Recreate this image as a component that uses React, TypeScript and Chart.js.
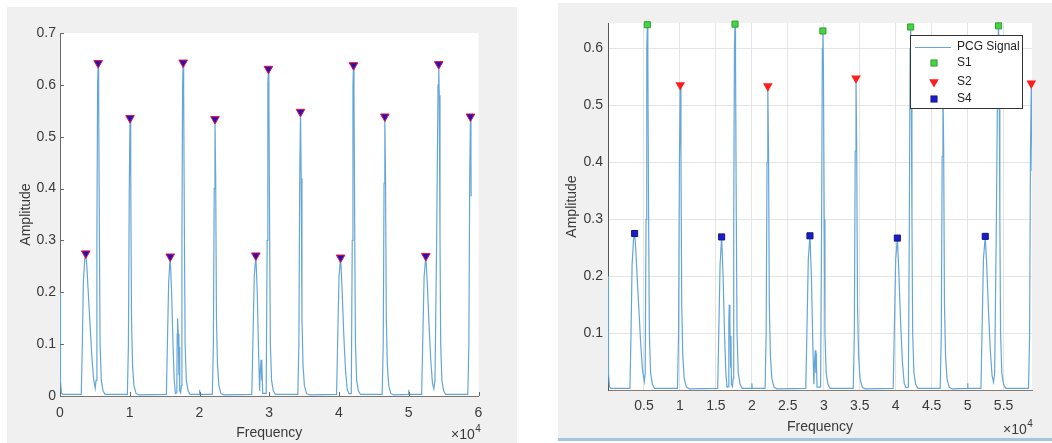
import React, { useEffect, useRef } from 'react';
import { Chart, registerables } from 'chart.js';

Chart.register(...registerables);

const FONT = "'Liberation Sans', Arial, Helvetica, sans-serif";
const TEXT = '#3a3a3a';
const LINE = '#65a6d8';

// Peak markers (frequency index, amplitude)
const s1Freq = [5470, 17660, 29880, 42080, 54300];
const s1Amp = [0.642, 0.643, 0.631, 0.638, 0.640];
const s2Freq = [10040, 22220, 34480, 46570, 58850];
const s2Amp = [0.536, 0.534, 0.548, 0.539, 0.539];
const s4Freq = [3700, 15800, 28080, 40230, 52450];
const s4Amp = [0.275, 0.269, 0.271, 0.267, 0.270];

// PCG envelope: [frequency, amplitude]
const pcgSignal: [number, number][] = [
  [0, 0.2], [40, 0.1], [100, 0.03], [200, 0.006], [400, 0.003],
  [3050, 0.003], [3200, 0.1], [3350, 0.22], [3550, 0.265], [3700, 0.275], [3850, 0.25], [4050, 0.2], [4300, 0.14], [4550, 0.08], [4800, 0.035], [5050, 0.015],
  [5170, 0.03], [5290, 0.3], [5390, 0.6], [5470, 0.642], [5540, 0.58], [5650, 0.3], [5750, 0.1], [5920, 0.03], [6170, 0.01], [6470, 0.003],
  [9660, 0.003], [9810, 0.1], [9930, 0.4], [10040, 0.536], [10140, 0.42], [10250, 0.15], [10400, 0.06], [10600, 0.02], [10900, 0.005], [11300, 0.002],
  [15250, 0.003], [15400, 0.1], [15580, 0.22], [15800, 0.269], [16000, 0.2], [16200, 0.1], [16380, 0.03], [16550, 0.005],
  [16750, 0.006], [16800, 0.12], [16860, 0.15], [16950, 0.12], [17050, 0.04], [17100, 0.095], [17160, 0.01], [17300, 0.006],
  [17400, 0.02], [17480, 0.3], [17580, 0.6], [17660, 0.643], [17730, 0.58], [17840, 0.3], [17940, 0.1], [18110, 0.03], [18360, 0.01], [18660, 0.003],
  [19950, 0.003], [20000, 0.012], [20050, 0.003],
  [21840, 0.003], [21990, 0.1], [22110, 0.4], [22220, 0.534], [22320, 0.42], [22430, 0.15], [22580, 0.06], [22780, 0.02], [23080, 0.005], [23480, 0.002],
  [27500, 0.003], [27650, 0.1], [27850, 0.23], [28080, 0.271], [28280, 0.2], [28480, 0.08], [28620, 0.01],
  [28720, 0.05], [28820, 0.07], [28900, 0.03], [28960, 0.065], [29060, 0.005],
  [29560, 0.005], [29700, 0.3], [29800, 0.6], [29880, 0.631], [29950, 0.57], [30060, 0.3], [30160, 0.1], [30330, 0.03], [30580, 0.01], [30880, 0.003],
  [34100, 0.003], [34250, 0.1], [34370, 0.42], [34480, 0.548], [34580, 0.42], [34690, 0.15], [34840, 0.06], [35040, 0.02], [35340, 0.005], [35740, 0.002],
  [39650, 0.003], [39800, 0.1], [40000, 0.23], [40230, 0.267], [40430, 0.21], [40680, 0.12], [40930, 0.05], [41180, 0.012], [41450, 0.004],
  [41760, 0.005], [41900, 0.3], [42000, 0.6], [42080, 0.638], [42150, 0.58], [42260, 0.3], [42360, 0.1], [42530, 0.03], [42780, 0.01], [43080, 0.003],
  [46190, 0.003], [46340, 0.1], [46460, 0.41], [46570, 0.539], [46670, 0.42], [46780, 0.15], [46930, 0.06], [47130, 0.02], [47430, 0.005], [47830, 0.002],
  [49950, 0.003], [50000, 0.012], [50050, 0.003],
  [51850, 0.003], [52000, 0.1], [52200, 0.23], [52450, 0.27], [52650, 0.22], [52900, 0.14], [53150, 0.07], [53400, 0.025], [53600, 0.014],
  [53760, 0.03], [54000, 0.3], [54200, 0.6], [54300, 0.64], [54370, 0.58], [54480, 0.3], [54580, 0.1], [54750, 0.03], [55000, 0.01], [55300, 0.003],
  [58470, 0.003], [58620, 0.1], [58740, 0.42], [58850, 0.539], [58920, 0.45], [58950, 0.385],
];

const leftXTicks = [0, 10000, 20000, 30000, 40000, 50000, 60000];
const leftYTicks = [0, 0.1, 0.2, 0.3, 0.4, 0.5, 0.6, 0.7];
const rightXTicks = [5000, 10000, 15000, 20000, 25000, 30000, 35000, 40000, 45000, 50000, 55000];
const rightYTicks = [0.1, 0.2, 0.3, 0.4, 0.5, 0.6];

const signalPts = pcgSignal.map(([x, y]) => ({ x, y }));
const toPts = (xs: number[], ys: number[]) => xs.map((x, i) => ({ x, y: ys[i] }));

const fmtX = (v: any) => String(+(Number(v) / 1e4).toFixed(1));
const fmtY = (v: any) => String(+Number(v).toFixed(1));

function drawExponent(ctx: CanvasRenderingContext2D, x: number, y: number) {
  ctx.save();
  ctx.fillStyle = TEXT;
  ctx.textBaseline = 'middle';
  ctx.textAlign = 'left';
  ctx.font = `14px ${FONT}`;
  ctx.fillText('\u00d710', x, y);
  const w = ctx.measureText('\u00d710').width;
  ctx.font = `10px ${FONT}`;
  ctx.fillText('4', x + w + 0.5, y - 6);
  ctx.restore();
}

const bgPlugin = {
  id: 'plotBg',
  beforeDraw(chart: any) {
    const { ctx, chartArea: a } = chart;
    ctx.save();
    ctx.fillStyle = '#ffffff';
    ctx.fillRect(a.left, a.top, a.right - a.left, a.bottom - a.top);
    ctx.restore();
  },
};

const leftDecor = {
  id: 'leftDecor',
  afterDraw(chart: any) {
    const { ctx, chartArea: a, scales } = chart;
    const x = scales.x, y = scales.y;
    ctx.save();
    ctx.strokeStyle = '#6b6b6b';
    ctx.lineWidth = 1;
    ctx.beginPath();
    leftXTicks.forEach((v) => {
      const px = Math.round(x.getPixelForValue(v)) + 0.5;
      ctx.moveTo(px, a.bottom);
      ctx.lineTo(px, a.bottom - 4);
    });
    leftYTicks.forEach((v) => {
      const py = Math.round(y.getPixelForValue(v)) + 0.5;
      ctx.moveTo(a.left, py);
      ctx.lineTo(a.left + 4, py);
    });
    ctx.stroke();
    ctx.restore();
    drawExponent(ctx, a.right - 27.5, a.bottom + 39);
  },
};

const rightDecor = {
  id: 'rightDecor',
  afterDraw(chart: any) {
    const { ctx, chartArea: a } = chart;
    const ds = chart.data.datasets;
    drawExponent(ctx, a.right - 29, a.bottom + 40);
    // legend
    const bw = 112, bh = 73;
    const bx = a.right - 10 - bw, by = a.top + 12;
    ctx.save();
    ctx.fillStyle = '#ffffff';
    ctx.fillRect(bx, by, bw, bh);
    ctx.strokeStyle = '#333333';
    ctx.lineWidth = 1;
    ctx.strokeRect(bx + 0.5, by + 0.5, bw, bh);
    ctx.font = `12px ${FONT}`;
    ctx.textBaseline = 'middle';
    ctx.textAlign = 'left';
    const rows = [12, 28, 47, 64];
    const order = [3, 0, 1, 2];
    order.forEach((di, r) => {
      const d = ds[di];
      const cy = by + rows[r];
      const mx = bx + 24;
      if (r === 0) {
        ctx.strokeStyle = LINE;
        ctx.lineWidth = 1;
        ctx.beginPath();
        ctx.moveTo(bx + 5, cy + 0.5);
        ctx.lineTo(bx + 41, cy + 0.5);
        ctx.stroke();
      } else if (d.pointStyle === 'rect') {
        const s = d.pointRadius * Math.SQRT1_2;
        ctx.fillStyle = d.pointBackgroundColor;
        ctx.strokeStyle = d.pointBorderColor;
        ctx.lineWidth = 1;
        ctx.fillRect(mx - s, cy - s, 2 * s, 2 * s);
        ctx.strokeRect(mx - s, cy - s, 2 * s, 2 * s);
      } else {
        const rr = d.pointRadius;
        ctx.fillStyle = d.pointBackgroundColor;
        ctx.beginPath();
        ctx.moveTo(mx, cy + rr);
        ctx.lineTo(mx - rr * 0.866, cy - rr * 0.5);
        ctx.lineTo(mx + rr * 0.866, cy - rr * 0.5);
        ctx.closePath();
        ctx.fill();
      }
      ctx.fillStyle = '#222222';
      ctx.fillText(d.label, bx + 47, cy);
    });
    ctx.restore();
  },
};

function LeftChart() {
  const ref = useRef<HTMLCanvasElement>(null);
  useEffect(() => {
    if (!ref.current) return;
    const peaksX = [...s4Freq, ...s1Freq, ...s2Freq];
    const peaksY = [...s4Amp, ...s1Amp, ...s2Amp];
    const chart = new Chart(ref.current, {
      type: 'scatter',
      data: {
        datasets: [
          {
            label: 'Peaks',
            data: toPts(peaksX, peaksY),
            pointStyle: 'triangle',
            pointRotation: 180,
            pointRadius: 5,
            pointBackgroundColor: '#2a0fb8',
            pointBorderColor: '#e8163c',
            pointBorderWidth: 1,
            showLine: false,
            clip: false,
            order: 0,
          } as any,
          {
            label: 'PCG Signal',
            data: signalPts,
            showLine: true,
            pointRadius: 0,
            borderColor: LINE,
            borderWidth: 1.2,
            tension: 0,
            order: 1,
          } as any,
        ],
      },
      options: {
        animation: false,
        responsive: false,
        events: [],
        layout: { padding: { left: 0, top: 26, right: 38.5, bottom: 0 } },
        plugins: { legend: { display: false }, tooltip: { enabled: false } },
        scales: {
          x: {
            type: 'linear',
            min: 0,
            max: 60000,
            afterBuildTicks: (s: any) => { s.ticks = leftXTicks.map((v) => ({ value: v })); },
            afterFit: (s: any) => { s.height = 47; },
            ticks: { callback: fmtX, color: TEXT, font: { family: FONT, size: 14 }, padding: 8.6, maxRotation: 0, autoSkip: false },
            grid: { drawOnChartArea: false, drawTicks: false },
            border: { display: true, color: '#7d7470', width: 1 },
            title: { display: true, text: 'Frequency', color: TEXT, font: { family: FONT, size: 14 }, padding: { top: 0, bottom: 1.6 } },
          },
          y: {
            type: 'linear',
            min: 0,
            max: 0.7,
            afterBuildTicks: (s: any) => { s.ticks = leftYTicks.map((v) => ({ value: v })); },
            afterFit: (s: any) => { s.width = 53; },
            ticks: { callback: fmtY, color: TEXT, font: { family: FONT, size: 14 }, padding: 4, autoSkip: false },
            grid: { drawOnChartArea: false, drawTicks: false },
            border: { display: true, color: '#6b6b6b', width: 1 },
            title: { display: true, text: 'Amplitude', color: TEXT, font: { family: FONT, size: 14 }, padding: { top: 10.6, bottom: 0 } },
          },
        },
      } as any,
      plugins: [bgPlugin, leftDecor],
    });
    return () => chart.destroy();
  }, []);
  return <canvas ref={ref} width={510} height={436} style={{ display: 'block' }} />;
}

function RightChart() {
  const ref = useRef<HTMLCanvasElement>(null);
  useEffect(() => {
    if (!ref.current) return;
    const chart = new Chart(ref.current, {
      type: 'scatter',
      data: {
        datasets: [
          {
            label: 'S1',
            data: toPts(s1Freq, s1Amp),
            pointStyle: 'rect',
            pointRadius: 4.3,
            pointBackgroundColor: '#44d444',
            pointBorderColor: '#2f9e2f',
            pointBorderWidth: 1,
            showLine: false,
            clip: false,
            order: 0,
          } as any,
          {
            label: 'S2',
            data: toPts(s2Freq, s2Amp),
            pointStyle: 'triangle',
            pointRotation: 180,
            pointRadius: 5.6,
            pointBackgroundColor: '#ff1c1c',
            pointBorderColor: '#ff1c1c',
            pointBorderWidth: 0,
            showLine: false,
            clip: false,
            order: 0,
          } as any,
          {
            label: 'S4',
            data: toPts(s4Freq, s4Amp),
            pointStyle: 'rect',
            pointRadius: 4.3,
            pointBackgroundColor: '#1c1cc8',
            pointBorderColor: '#14148a',
            pointBorderWidth: 1,
            showLine: false,
            clip: false,
            order: 0,
          } as any,
          {
            label: 'PCG Signal',
            data: signalPts,
            showLine: true,
            pointRadius: 0,
            borderColor: LINE,
            borderWidth: 1.2,
            tension: 0,
            order: 1,
          } as any,
        ],
      },
      options: {
        animation: false,
        responsive: false,
        events: [],
        layout: { padding: { left: 0, top: 20, right: 20, bottom: 0 } },
        plugins: { legend: { display: false }, tooltip: { enabled: false } },
        scales: {
          x: {
            type: 'linear',
            min: 0,
            max: 58950,
            afterBuildTicks: (s: any) => { s.ticks = rightXTicks.map((v) => ({ value: v })); },
            afterFit: (s: any) => { s.height = 48; },
            ticks: { callback: fmtX, color: TEXT, font: { family: FONT, size: 14 }, padding: 8, maxRotation: 0, autoSkip: false },
            grid: { color: '#e4e4e4', drawTicks: false },
            border: { display: true, color: '#8c7a72', width: 1 },
            title: { display: true, text: 'Frequency', color: TEXT, font: { family: FONT, size: 14 }, padding: { top: 0, bottom: 2.6 } },
          },
          y: {
            type: 'linear',
            min: 0,
            max: 0.645,
            afterBuildTicks: (s: any) => { s.ticks = rightYTicks.map((v) => ({ value: v })); },
            afterFit: (s: any) => { s.width = 50; },
            ticks: { callback: fmtY, color: TEXT, font: { family: FONT, size: 14 }, padding: 5, autoSkip: false },
            grid: { color: '#e4e4e4', drawTicks: false },
            border: { display: true, color: '#555555', width: 1 },
            title: { display: true, text: 'Amplitude', color: TEXT, font: { family: FONT, size: 14 }, padding: { top: 5.6, bottom: 0 } },
          },
        },
      } as any,
      plugins: [bgPlugin, rightDecor],
    });
    return () => chart.destroy();
  }, []);
  return <canvas ref={ref} width={494} height={435} style={{ display: 'block' }} />;
}

export default function App() {
  return (
    <div style={{ position: 'absolute', left: 0, top: 0, width: 1052, height: 443, background: '#ffffff', overflow: 'hidden' }}>
      <div style={{ position: 'absolute', left: 7, top: 7, width: 510, height: 436, background: '#f0f0f0' }}>
        <LeftChart />
      </div>
      <div style={{ position: 'absolute', left: 558, top: 3, width: 494, height: 435, background: '#f0f0f0' }}>
        <RightChart />
      </div>
      <div style={{ position: 'absolute', left: 558, top: 438, width: 494, height: 3, background: '#a3c5e0' }} />
    </div>
  );
}
